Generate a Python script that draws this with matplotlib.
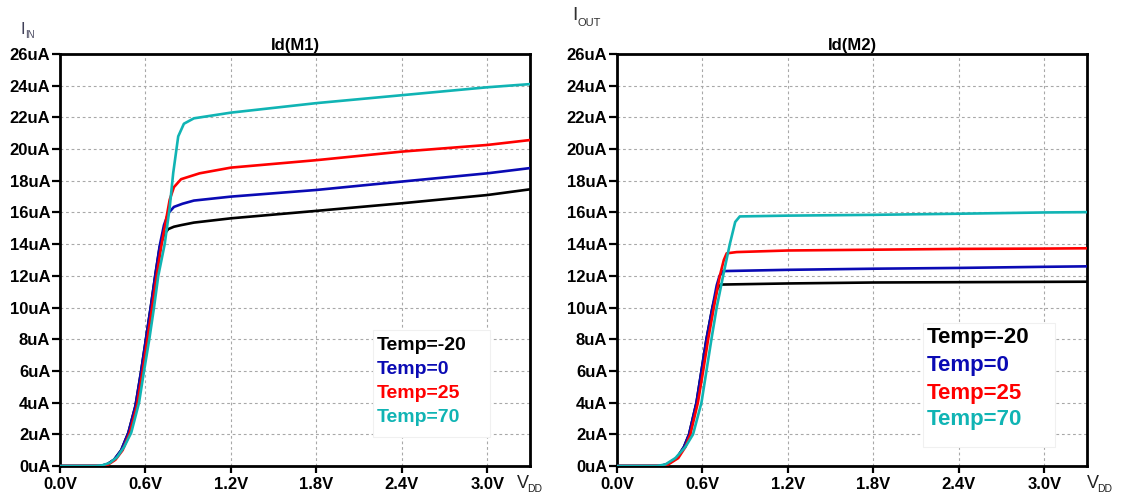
import matplotlib
matplotlib.use("Agg")
import matplotlib.pyplot as plt
from matplotlib.patches import Rectangle

# ---------------- data ----------------
temps = ["Temp=-20", "Temp=0", "Temp=25", "Temp=70"]
colors = ["#000000", "#0a0ab4", "#ff0000", "#10b4b4"]

# Id(M1)
m1_v_n20 = [0, 0.28, 0.33, 0.38, 0.43, 0.48, 0.53, 0.57, 0.60, 0.64, 0.67, 0.70, 0.73, 0.76, 0.80, 0.85, 0.94, 1.2, 1.8, 2.4, 3.0, 3.3]
m1_i_n20 = [0, 0, 0.1, 0.4, 1.0, 2.1, 3.8, 6.0, 7.8, 10.2, 12.1, 13.8, 14.6, 14.95, 15.1, 15.2, 15.36, 15.63, 16.1, 16.58, 17.1, 17.46]
m1_v_0 = [0, 0.28, 0.33, 0.38, 0.43, 0.48, 0.53, 0.57, 0.60, 0.64, 0.67, 0.70, 0.73, 0.76, 0.80, 0.86, 0.94, 1.2, 1.8, 2.4, 3.0, 3.3]
m1_i_0 = [0, 0, 0.1, 0.4, 1.0, 2.1, 3.8, 6.0, 7.8, 10.2, 12.1, 13.9, 15.2, 15.95, 16.35, 16.55, 16.75, 17.0, 17.42, 17.95, 18.47, 18.8]
m1_v_25 = [0, 0.29, 0.34, 0.39, 0.44, 0.49, 0.54, 0.58, 0.61, 0.65, 0.68, 0.71, 0.74, 0.77, 0.80, 0.85, 0.98, 1.2, 1.8, 2.4, 3.0, 3.3]
m1_i_25 = [0, 0, 0.1, 0.4, 1.0, 2.1, 3.8, 6.0, 7.8, 10.2, 12.1, 13.8, 15.3, 16.8, 17.6, 18.1, 18.47, 18.83, 19.3, 19.84, 20.26, 20.57]
m1_v_70 = [0, 0.25, 0.30, 0.35, 0.40, 0.45, 0.50, 0.555, 0.59, 0.627, 0.66, 0.69, 0.735, 0.77, 0.795, 0.83, 0.87, 0.94, 1.2, 1.8, 2.4, 3.0, 3.3]
m1_i_70 = [0, 0, 0.05, 0.2, 0.55, 1.2, 2.1, 4.0, 6.0, 8.0, 10.0, 12.0, 14.0, 16.3, 18.5, 20.8, 21.6, 21.94, 22.3, 22.9, 23.4, 23.9, 24.1]

# Id(M2)
m2_v_n20 = [0, 0.30, 0.35, 0.42, 0.47, 0.506, 0.558, 0.593, 0.628, 0.67, 0.705, 0.73, 1.2, 1.8, 2.4, 3.0, 3.3]
m2_i_n20 = [0, 0, 0.1, 0.5, 1.2, 2.0, 4.0, 6.0, 8.0, 10.0, 11.2, 11.45, 11.52, 11.58, 11.6, 11.62, 11.63]
m2_v_0 = [0, 0.30, 0.35, 0.42, 0.47, 0.506, 0.558, 0.593, 0.628, 0.67, 0.70, 0.72, 0.745, 1.2, 1.8, 2.4, 3.0, 3.3]
m2_i_0 = [0, 0, 0.1, 0.5, 1.2, 2.0, 4.0, 6.0, 8.0, 10.0, 11.4, 12.0, 12.3, 12.38, 12.45, 12.5, 12.57, 12.6]
m2_v_25 = [0, 0.31, 0.36, 0.43, 0.48, 0.515, 0.568, 0.605, 0.64, 0.68, 0.722, 0.75, 0.77, 0.84, 1.2, 1.8, 2.4, 3.0, 3.3]
m2_i_25 = [0, 0, 0.1, 0.5, 1.2, 2.0, 4.0, 6.0, 8.0, 10.0, 12.0, 13.0, 13.42, 13.5, 13.6, 13.65, 13.7, 13.72, 13.74]
m2_v_70 = [0, 0.28, 0.34, 0.41, 0.48, 0.534, 0.593, 0.628, 0.663, 0.70, 0.745, 0.792, 0.83, 0.862, 1.2, 1.8, 2.4, 3.0, 3.3]
m2_i_70 = [0, 0, 0.1, 0.5, 1.2, 2.0, 4.0, 6.0, 8.0, 10.0, 12.0, 14.0, 15.4, 15.75, 15.8, 15.85, 15.92, 16.0, 16.02]

x_ticks = [0.0, 0.6, 1.2, 1.8, 2.4, 3.0]
x_ticklabels = ["0.0V", "0.6V", "1.2V", "1.8V", "2.4V", "3.0V"]
y_ticks = list(range(0, 27, 2))
y_ticklabels = [f"{v}uA" for v in y_ticks]
titles = ["Id(M1)", "Id(M2)"]

# ---------------- figure ----------------
W, H = 1121, 497
plt.rcParams['font.family'] = ['Liberation Sans', 'DejaVu Sans']
fig = plt.figure(figsize=(W / 100, H / 100), dpi=100)


def fx(x):
    return x / W


def fy(y):
    return 1 - y / H


def make_axes(x0, x1, y_top, y_bot):
    return fig.add_axes([fx(x0), fy(y_bot), (x1 - x0) / W, (y_bot - y_top) / H])


ax1 = make_axes(60, 530, 54, 466)
ax2 = make_axes(617, 1087, 54, 466)

series1 = [(m1_v_n20, m1_i_n20), (m1_v_0, m1_i_0), (m1_v_25, m1_i_25), (m1_v_70, m1_i_70)]
series2 = [(m2_v_n20, m2_i_n20), (m2_v_0, m2_i_0), (m2_v_25, m2_i_25), (m2_v_70, m2_i_70)]

for ax, series, title in [(ax1, series1, titles[0]), (ax2, series2, titles[1])]:
    for (v, i), c in zip(series, colors):
        ax.plot(v, i, color=c, lw=1.9, solid_joinstyle='round', zorder=3)
    ax.set_xlim(0, 3.3)
    ax.set_ylim(0, 26)
    ax.set_xticks(x_ticks)
    ax.set_xticklabels(x_ticklabels)
    ax.set_yticks(y_ticks)
    ax.set_yticklabels(y_ticklabels)
    for lab in ax.get_xticklabels() + ax.get_yticklabels():
        lab.set_fontweight('bold')
        lab.set_fontsize(12)
    ax.tick_params(axis='y', direction='out', length=6, width=1.6, pad=1, colors='black')
    ax.tick_params(axis='x', direction='out', length=5, width=1.6, pad=3, colors='black')
    ax.grid(True, color='#a8a8a8', linestyle=(0, (2.5, 2.5)), lw=0.8)
    ax.set_axisbelow(True)
    for sp in ax.spines.values():
        sp.set_linewidth(2.0)
        sp.set_color('black')
    ax.set_title(title, fontsize=12, fontweight='bold', pad=3)

# axis labels
fig.text(fx(20), fy(29), r"I", fontsize=12, color='#404058', va='center', ha='left')
fig.text(fx(25), fy(35), "IN", fontsize=7, color='#404058', va='center', ha='left')
fig.text(fx(572), fy(16), r"I", fontsize=14, color='#303030', va='center', ha='left')
fig.text(fx(578), fy(23), "OUT", fontsize=8, color='#303030', va='center', ha='left')
fig.text(fx(517), fy(484), "V", fontsize=13, color='#202020', va='center', ha='left')
fig.text(fx(527), fy(489), "DD", fontsize=7.5, color='#202020', va='center', ha='left')
fig.text(fx(1087), fy(484), "V", fontsize=13, color='#202020', va='center', ha='left')
fig.text(fx(1097), fy(489), "DD", fontsize=7.5, color='#202020', va='center', ha='left')

# legends
def legend_box(x0, y0, x1, y1, tx, rows, fs):
    r = Rectangle((fx(x0), fy(y1)), (x1 - x0) / W, (y1 - y0) / H, transform=fig.transFigure,
                  facecolor='white', edgecolor='#f0f0f0', lw=0.8, zorder=5)
    fig.add_artist(r)
    for name, c, yy in zip(temps, colors, rows):
        fig.text(fx(tx), fy(yy), name, color=c, fontsize=fs, fontweight='bold',
                 va='center', ha='left', zorder=6)


legend_box(373, 330, 490, 437, 377, [345, 369, 393, 417], 14)
legend_box(923, 323, 1055, 447, 927, [338, 365, 393, 420], 16)

fig.savefig("out.png", dpi=100)
